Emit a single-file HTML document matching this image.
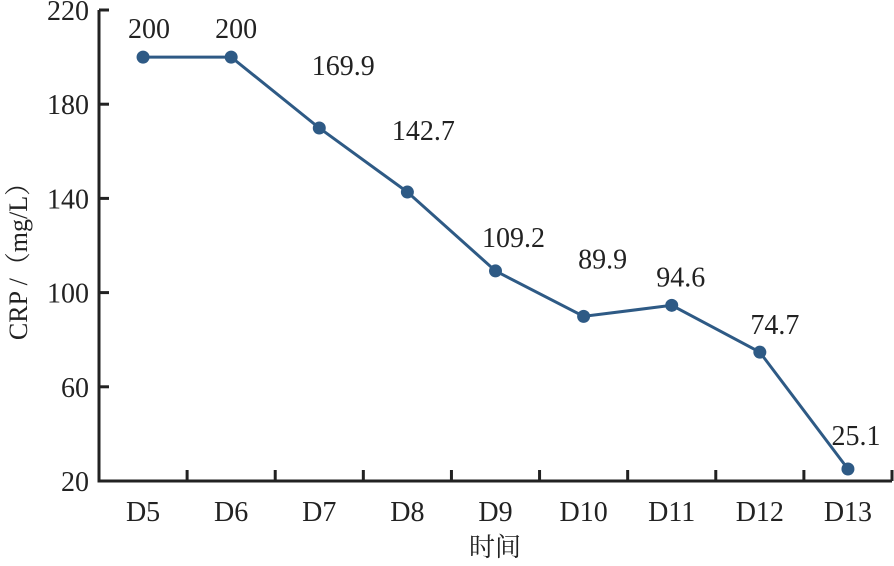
<!DOCTYPE html>
<html><head><meta charset="utf-8"><style>
body{margin:0;background:#fff;}
svg text{font-family:"Liberation Serif","Noto Serif CJK SC",serif;fill:#222;}
</style></head><body>
<svg width="894" height="561" xmlns="http://www.w3.org/2000/svg">
<g id="chart"></g>
</svg>
<script>
const categories=["D5","D6","D7","D8","D9","D10","D11","D12","D13"];
const values=[200,200,169.9,142.7,109.2,89.9,94.6,74.7,25.1];
const valueLabels=["200","200","169.9","142.7","109.2","89.9","94.6","74.7","25.1"];
const yTicks=[20,60,100,140,180,220];
const labelDx=[6,5,24,16,18,19,9,15,8];
const labelDy=[-19,-19,-53,-52,-24,-48,-19,-18,-24];
const X0=99,X1=892,Y0=481,Y1=10,yMin=20,yMax=220;
const bw=(X1-X0)/categories.length;
const xs=i=>X0+bw*(i+0.5);
const ys=v=>Y0-(v-yMin)/(yMax-yMin)*(Y0-Y1);
const g=document.getElementById('chart');
const NS="http://www.w3.org/2000/svg";
function mk(t,a){const e=document.createElementNS(NS,t);for(const k in a)e.setAttribute(k,a[k]);g.appendChild(e);return e;}
let e;
e=mk('line',{x1:X0,y1:Y1,x2:X0,y2:Y0+1.5,stroke:'#222','stroke-width':3});


e=mk('line',{x1:X0-1.5,y1:Y0,x2:X1,y2:Y0,stroke:'#222','stroke-width':3});


yTicks.forEach(v=>{
 e=mk('line',{x1:X0,y1:ys(v),x2:X0+10,y2:ys(v),stroke:'#222','stroke-width':3});
 
 
 e=mk('text',{x:X0-10,y:ys(v)+10,'font-size':28,'text-anchor':'end'});e.textContent=v;
 
 
});
categories.forEach((c,i)=>{
 const bx=X0+bw*(i+1);
 e=mk('line',{x1:bx,y1:Y0,x2:bx,y2:Y0-11,stroke:'#222','stroke-width':3});
 
 
 e=mk('text',{x:xs(i),y:521,'font-size':28,'text-anchor':'middle'});e.textContent=c;
 
 
});
e=mk('polyline',{points:values.map((v,i)=>xs(i)+','+ys(v)).join(' '),fill:'none',stroke:'#2e5a85','stroke-width':3});


values.forEach((v,i)=>{
 e=mk('circle',{cx:xs(i),cy:ys(v),r:6.5,fill:'#2e5a85'});
 
 
 e=mk('text',{x:xs(i)+labelDx[i],y:ys(v)+labelDy[i],'font-size':28,'text-anchor':'middle'});e.textContent=valueLabels[i];
 
 
});
e=mk('text',{x:495,y:556,'font-size':26,'text-anchor':'middle'});e.textContent='时间';


e=mk('text',{x:0,y:0,'font-size':26,'text-anchor':'middle',transform:'translate(27,255) rotate(-90)'});e.textContent='CRP /（mg/L）';


</script>
</body></html>
